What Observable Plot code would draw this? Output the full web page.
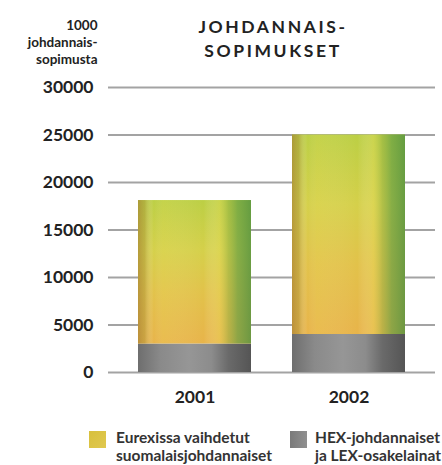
<!DOCTYPE html>
<html><head><meta charset="utf-8">
<script src="https://cdn.jsdelivr.net/npm/d3@7"></script>
<script src="https://cdn.jsdelivr.net/npm/@observablehq/plot@0.6"></script>
<style>
body{margin:0;background:#fff;font-family:Lato,"Open Sans",sans-serif;}
#wrap{position:relative;width:442px;height:465px;overflow:hidden;}
#legend{position:absolute;left:0;top:420px;width:442px;height:45px;}
.sw{position:absolute;top:11px;width:17px;height:17px;}
.lab{position:absolute;top:8px;font-size:15.5px;font-weight:700;line-height:18px;color:#333;white-space:nowrap;}
</style></head><body><div id="wrap"><div id="chart"></div><div id="legend"></div></div>
<script>
const years = ["2001", "2002"];
const seriesKeys = ["hex", "eurex"];
const seriesLabels = ["HEX-johdannaiset\nja LEX-osakelainat", "Eurexissa vaihdetut\nsuomalaisjohdannaiset"];
const hexValues = [3000, 4000];
const eurexValues = [15100, 21000];
const yTicks = [0, 5000, 10000, 15000, 20000, 25000, 30000];
const titleLines = ["JOHDANNAIS-", "SOPIMUKSET"];
const yLabelLines = ["1000", "johdannais-", "sopimusta"];

const fills = {hex: "url(#grayH)", eurex: "url(#yelV)"};
const overlays = {hex: "none", eurex: "url(#yelH)"};

const rows = [];
years.forEach((yr, i) => {
  rows.push({year: yr, series: "hex", value: hexValues[i]});
  rows.push({year: yr, series: "eurex", value: eurexValues[i]});
});

const chart = Plot.plot({
  width: 442, height: 420,
  marginLeft: 108, marginRight: 7, marginTop: 87, marginBottom: 48,
  style: {fontFamily: "Lato, 'Open Sans', sans-serif", background: "#fff"},
  x: {domain: years, paddingInner: 0.265, paddingOuter: 0.19, axis: null},
  y: {domain: [0, 30000], axis: null},
  color: {type: "identity"},
  marks: [
    Plot.ruleY(yTicks, {stroke: "#a3a3a3", strokeWidth: 2}),
    Plot.barY(rows, Plot.stackY({x: "year", y: "value", fill: d => fills[d.series], inset: 0})),
    Plot.barY(rows, Plot.stackY({x: "year", y: "value", fill: d => overlays[d.series], inset: 0})),
    Plot.axisY(yTicks, {tickSize: 0, tickPadding: 15, tickFormat: d3.format("d"), fontSize: 17.5, fontWeight: 700, fill: "#222", label: null}),
    Plot.axisX(years, {tickSize: 0, tickPadding: 18, fontSize: 17.5, fontWeight: 700, fill: "#222", label: null}),
    Plot.text([titleLines.join("\n")], {frameAnchor: "top", lineAnchor: "top", dx: 1, dy: -72, text: d => d, fontSize: 17.5, fontWeight: 700, fill: "#222", lineHeight: 1.38}),
    Plot.text([yLabelLines.join("\n")], {frameAnchor: "top-left", textAnchor: "end", lineAnchor: "top", dx: -11, dy: -69, text: d => d, fontSize: 13.5, fontWeight: 700, fill: "#222", lineHeight: 1.25})
  ]
});

const svg = d3.select(chart);
svg.selectAll("text").filter(function() { return this.textContent.includes(titleLines[1]); })
  .attr("letter-spacing", "2.6px").style("letter-spacing", "2.6px");
const defs = svg.insert("defs", ":first-child");
function grad(id, vertical, stops) {
  const g = defs.append("linearGradient").attr("id", id)
    .attr("x1", 0).attr("y1", 0).attr("x2", vertical ? 0 : 1).attr("y2", vertical ? 1 : 0);
  stops.forEach(([o, c, a]) => g.append("stop").attr("offset", o).attr("stop-color", c).attr("stop-opacity", a == null ? 1 : a));
}
grad("yelV", true, [[0, "#bccf44"], [0.35, "#d5d04a"], [0.65, "#e2c24a"], [1, "#e8b44a"]]);
grad("yelH", false, [
  [0, "#a07830", 0.6], [0.06, "#a08838", 0.4], [0.14, "#ffffff", 0], [0.22, "#f4e870", 0.15],
  [0.58, "#ffffff", 0], [0.72, "#ece266", 0.3], [0.8, "#86ac44", 0.45], [0.88, "#5e9c44", 0.65], [1, "#4e9040", 0.8]
]);
grad("grayH", false, [[0, "#6e6e6e"], [0.2, "#8a8a8a"], [0.45, "#969696"], [0.65, "#8c8c8c"], [0.8, "#6a6a6a"], [1, "#555555"]]);

document.getElementById("chart").appendChild(chart);

const legend = document.getElementById("legend");
const items = [
  {key: "eurex", sx: 89, tx: 116, bg: "linear-gradient(135deg,#d8c03c,#e0c850)"},
  {key: "hex", sx: 290, tx: 315, bg: "linear-gradient(90deg,#7a7a7a,#909090)"}
];
items.forEach(it => {
  const i = seriesKeys.indexOf(it.key);
  const sw = document.createElement("div");
  sw.className = "sw"; sw.style.left = it.sx + "px"; sw.style.background = it.bg;
  const lab = document.createElement("div");
  lab.className = "lab"; lab.style.left = it.tx + "px";
  lab.innerHTML = seriesLabels[i].split("\n").join("<br>");
  legend.appendChild(sw); legend.appendChild(lab);
});
</script></body></html>
